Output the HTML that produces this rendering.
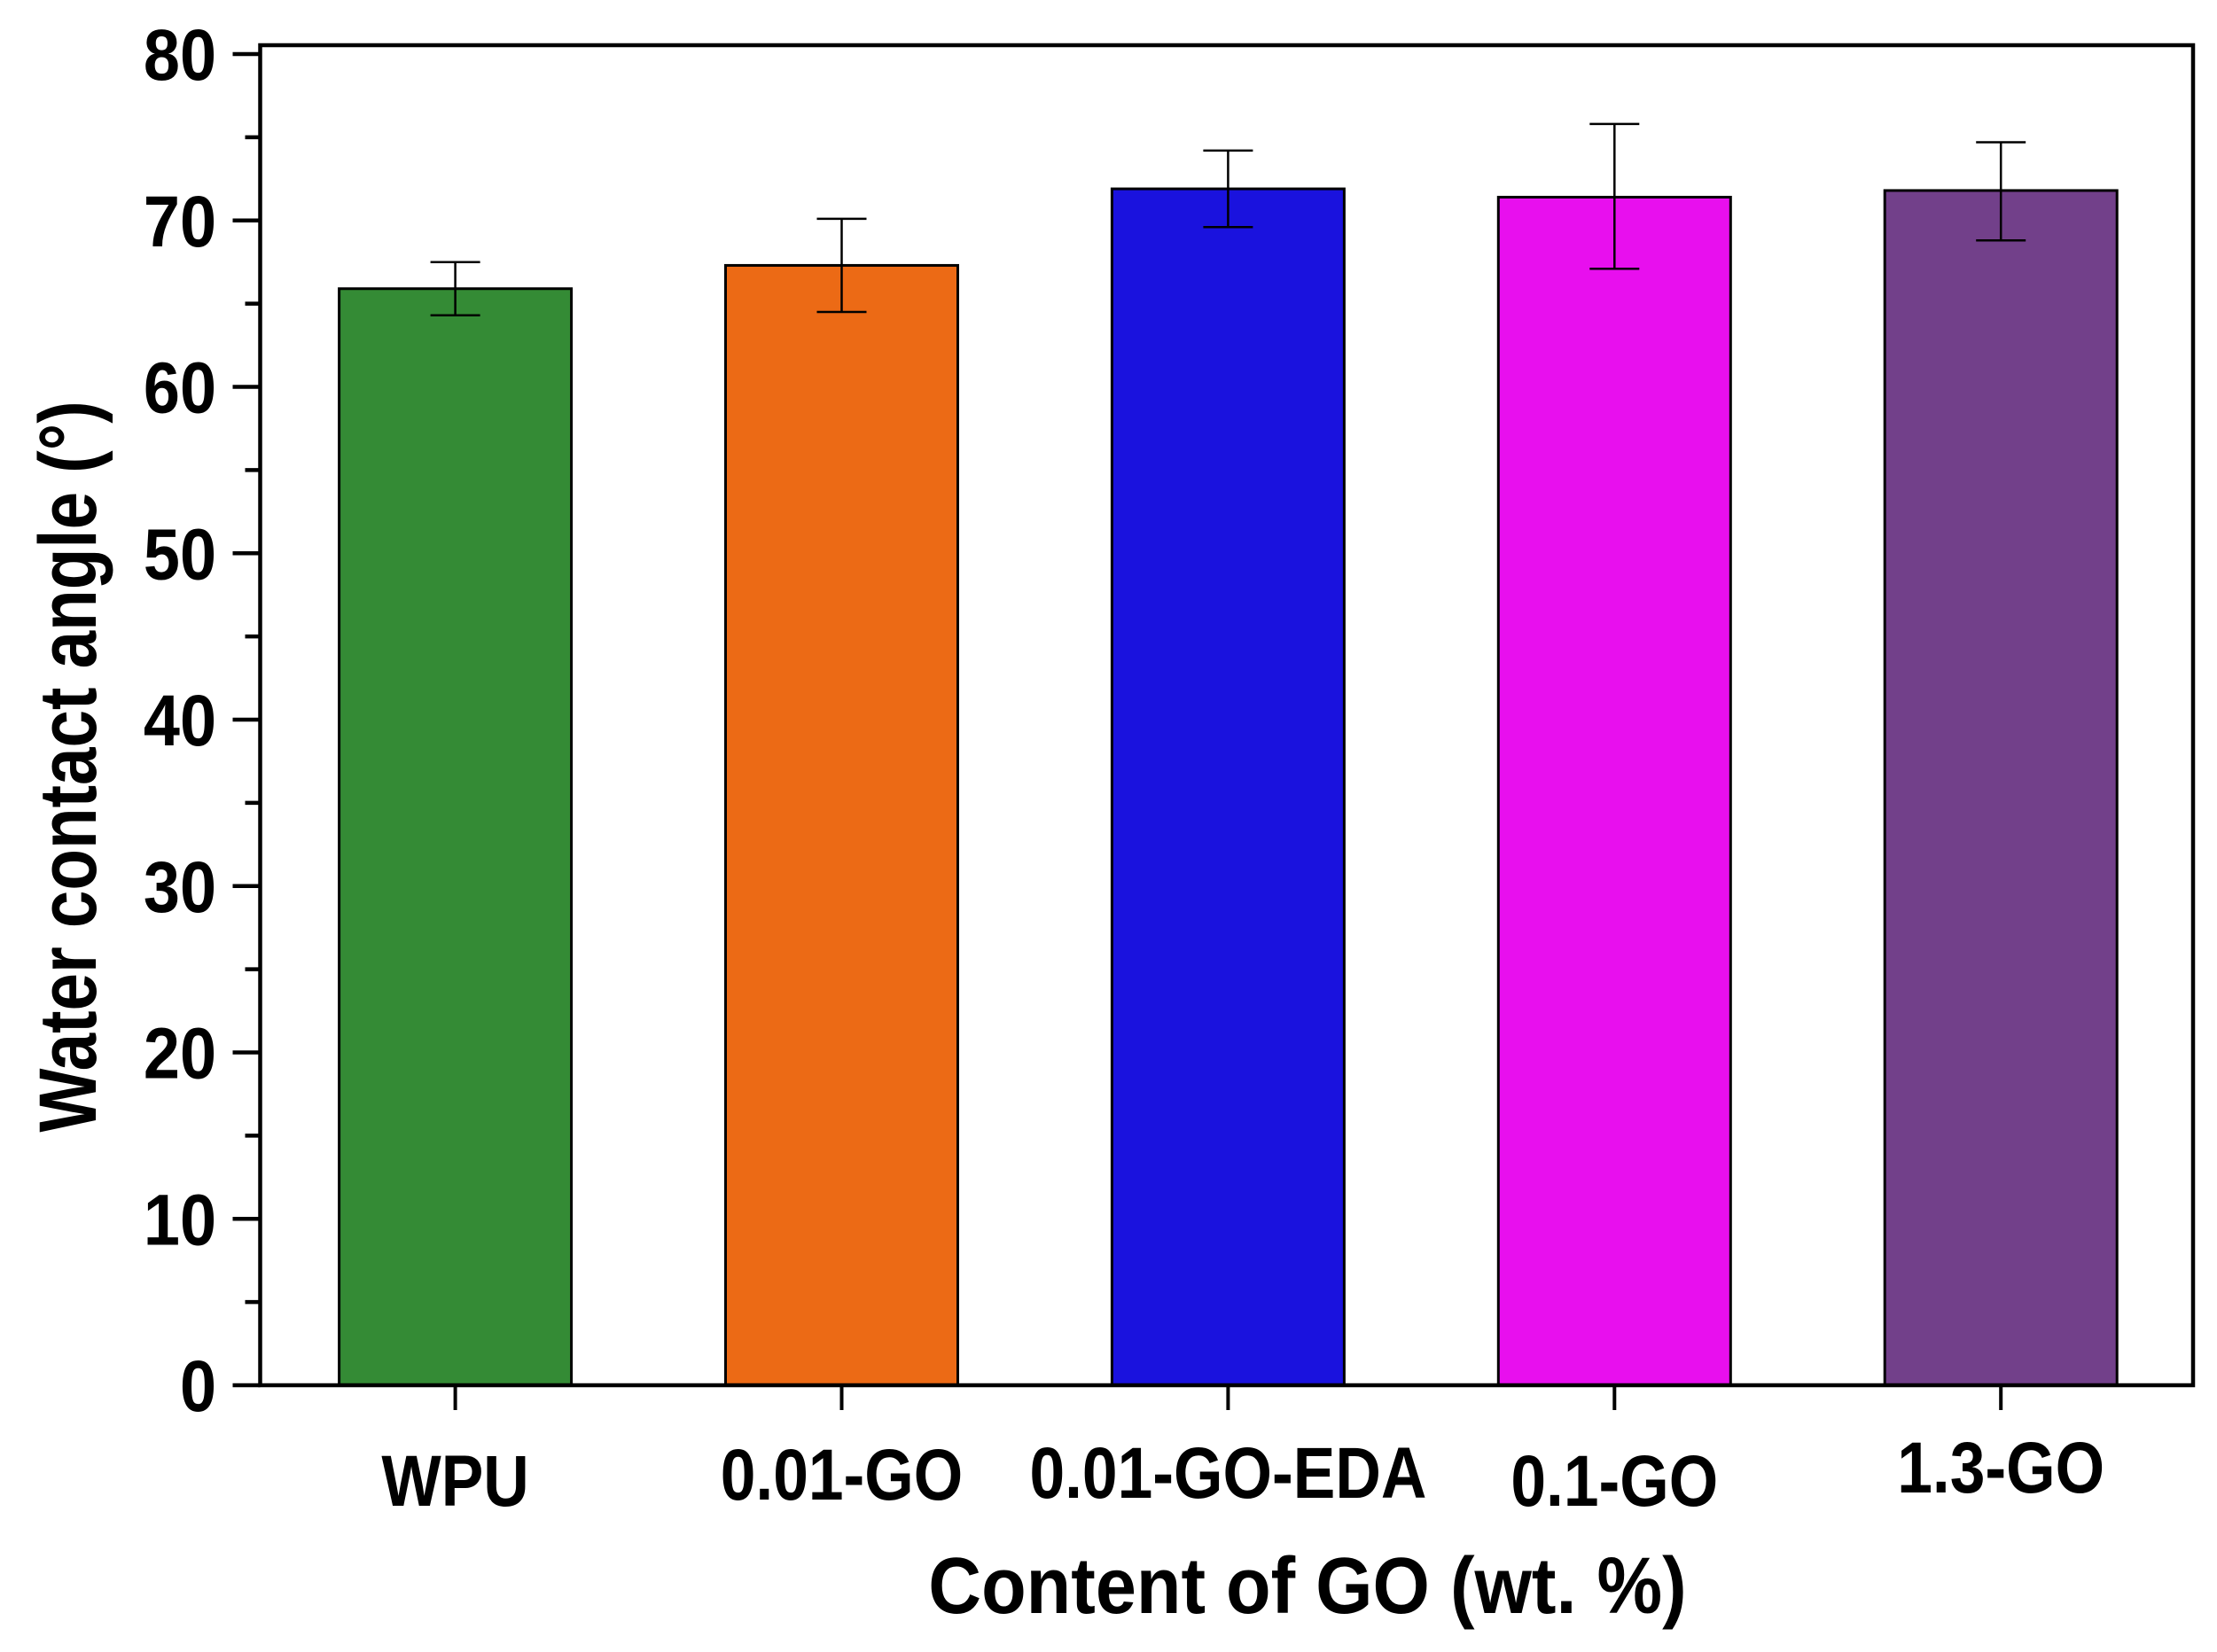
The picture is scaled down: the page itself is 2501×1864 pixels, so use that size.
<!DOCTYPE html>
<html><head><meta charset="utf-8"><style>
html,body{margin:0;padding:0;background:#fff;}
svg{display:block;font-family:"Liberation Sans Narrow","Liberation Sans",sans-serif;font-weight:bold;}
</style></head><body>
<svg id="chart" width="2501" height="1864" viewBox="0 0 2501 1864" xmlns="http://www.w3.org/2000/svg">
<g id="plot"></g>
</svg>
<script>
const categories = ["WPU","0.01-GO","0.01-GO-EDA","0.1-GO","1.3-GO"];
const values = [65.9, 67.3, 71.9, 71.4, 71.8];
const errHigh = [67.5, 70.1, 74.2, 75.8, 74.7];
const errLow = [64.3, 64.5, 69.6, 67.1, 68.8];
const colors = ["#348B35","#EC6A15","#1A12DE","#E80FEE","#72408A"];
const yTicks = [0,10,20,30,40,50,60,70,80];

const NS="http://www.w3.org/2000/svg";
const g=document.getElementById('plot');
const L=293.5,R=2474,T=51,B=1563;
const y0=1563,y80=61;
const labelBase=[1699,1692,1690,1699,1684];
function y(v){return y0+(y80-y0)*v/80;}
function x(i){return 513.6+i*435.9;}
const bw=262;
function mk(t,a,p){const e=document.createElementNS(NS,t);for(const k in a)e.setAttribute(k,a[k]);(p||g).appendChild(e);return e;}

categories.forEach((c,i)=>{
  const b=mk('rect',{x:x(i)-bw/2,y:y(values[i]),width:bw,height:y(0)-y(values[i]),fill:colors[i],stroke:'#000','stroke-width':3});
  
  
  const e=mk('path',{d:`M${x(i)},${y(errHigh[i])}V${y(errLow[i])}M${x(i)-28},${y(errHigh[i])}h56M${x(i)-28},${y(errLow[i])}h56`,stroke:'#000','stroke-width':2.5,fill:'none'});
  
  
  mk('line',{x1:x(i),x2:x(i),y1:B,y2:B+28,stroke:'#000','stroke-width':4});
  const t=mk('text',{x:0,y:0,'text-anchor':'middle','font-size':82,transform:`translate(${x(i)},${labelBase[i]}) scale(0.87,1)`});
  t.textContent=c;
  
  
});

mk('rect',{x:L,y:T,width:R-L,height:B-T,fill:'none',stroke:'#000','stroke-width':4.5});
yTicks.forEach(v=>{
  mk('line',{x1:L-31,x2:L,y1:y(v),y2:y(v),stroke:'#000','stroke-width':4.5});
  if(v<80) mk('line',{x1:L-17,x2:L,y1:y(v+5),y2:y(v+5),stroke:'#000','stroke-width':4.5});
  const t=mk('text',{x:0,y:0,'text-anchor':'end','font-size':82,transform:`translate(244,${y(v)+29}) scale(0.9,1)`});
  t.textContent=v;
  
  
});
const xt=mk('text',{x:0,y:0,'text-anchor':'middle','font-size':90,transform:'translate(1475,1820) scale(0.92,1)'});
xt.textContent="Content of GO (wt. %)";


const yt=mk('text',{x:0,y:0,'text-anchor':'middle','font-size':92,transform:'translate(108,865) rotate(-90) scale(0.83,1)'});
yt.textContent="Water contact angle (°)";


</script>
</body></html>
